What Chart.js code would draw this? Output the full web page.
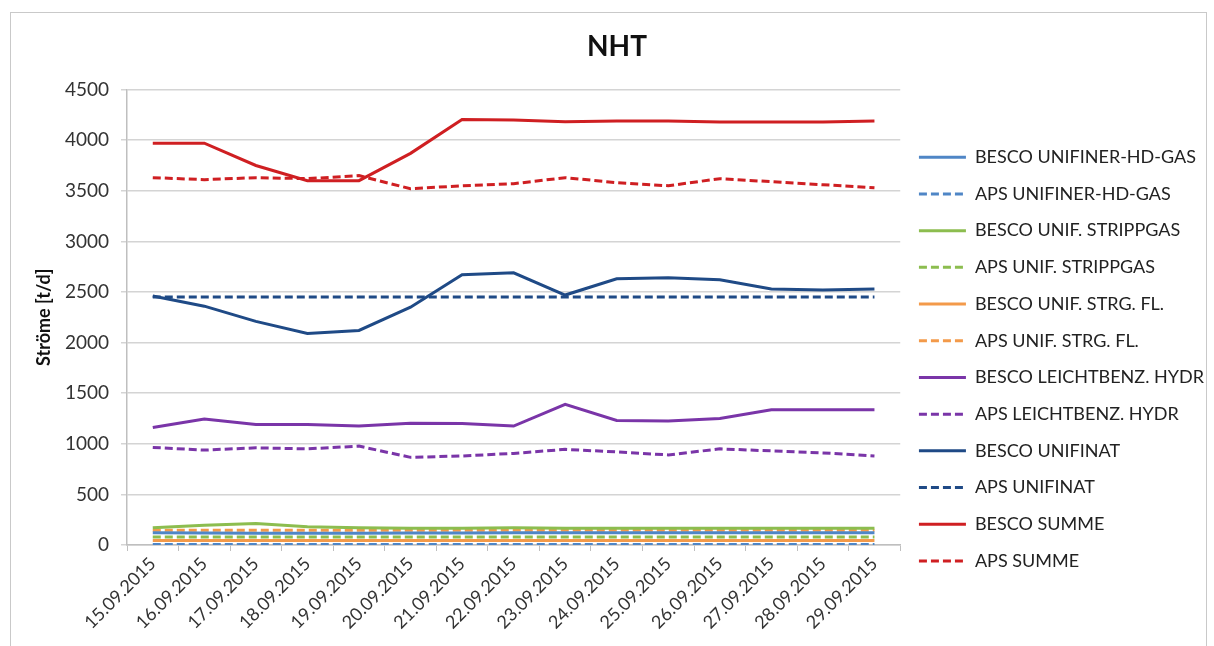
<!DOCTYPE html>
<html>
<head>
<meta charset="utf-8">
<title>NHT</title>
<script src="https://cdn.jsdelivr.net/npm/chart.js@4/dist/chart.umd.min.js"></script>
<style>
    html, body { margin: 0; padding: 0; background: #fff; }
    #frame {
        position: absolute; left: 10px; top: 12px;
        width: 1197px; height: 640px;
        border: 1px solid #c9c9c9; box-sizing: border-box;
    }
    #wrap { position: absolute; left: 0; top: 0; width: 1214px; height: 646px; }
</style>
</head>
<body>
<div id="frame"></div>
<div id="wrap"><canvas id="chart" width="1214" height="646"></canvas></div>
<script>
var dates = ['15.09.2015', '16.09.2015', '17.09.2015', '18.09.2015', '19.09.2015',
    '20.09.2015', '21.09.2015', '22.09.2015', '23.09.2015', '24.09.2015',
    '25.09.2015', '26.09.2015', '27.09.2015', '28.09.2015', '29.09.2015'];

var yTicks = [0, 500, 1000, 1500, 2000, 2500, 3000, 3500, 4000, 4500];

var bescoHdGas = [120, 118, 115, 115, 115, 118, 118, 120, 120, 120, 120, 120, 120, 120, 120];
var apsHdGas = [5, 5, 5, 5, 5, 5, 5, 5, 5, 5, 5, 5, 5, 5, 5];
var bescoStrippgas = [170, 195, 212, 180, 170, 165, 165, 170, 165, 165, 165, 165, 165, 165, 165];
var apsStrippgas = [80, 80, 80, 80, 80, 80, 80, 80, 80, 80, 80, 80, 80, 80, 80];
var bescoStrgFl = [45, 45, 45, 45, 45, 45, 45, 45, 45, 45, 45, 45, 45, 45, 45];
var apsStrgFl = [145, 145, 145, 145, 145, 145, 145, 145, 145, 145, 145, 145, 145, 145, 145];
var bescoLeichtbenz = [1162, 1244, 1191, 1190, 1175, 1204, 1200, 1175, 1389, 1231, 1225, 1250, 1336, 1336, 1336];
var apsLeichtbenz = [964, 938, 960, 950, 977, 866, 880, 905, 945, 920, 890, 950, 930, 910, 880];
var bescoUnifinat = [2460, 2360, 2210, 2090, 2120, 2350, 2670, 2690, 2470, 2630, 2640, 2620, 2530, 2520, 2530];
var apsUnifinat = [2450, 2450, 2450, 2450, 2450, 2450, 2450, 2450, 2450, 2450, 2450, 2450, 2450, 2450, 2450];
var bescoSumme = [3970, 3970, 3750, 3600, 3600, 3870, 4205, 4200, 4183, 4190, 4190, 4180, 4180, 4180, 4190];
var apsSumme = [3630, 3610, 3630, 3620, 3650, 3520, 3550, 3570, 3630, 3580, 3550, 3620, 3590, 3560, 3530];

(function () {
    'use strict';

    var FONT = 'Lato, "Open Sans", sans-serif',
        DASH = [8, 4],

        series = [
            { label: 'BESCO UNIFINER-HD-GAS', data: bescoHdGas, color: '#4f86c6', dashed: false },
            { label: 'APS UNIFINER-HD-GAS', data: apsHdGas, color: '#4f86c6', dashed: true },
            { label: 'BESCO UNIF. STRIPPGAS', data: bescoStrippgas, color: '#8cbd4f', dashed: false },
            { label: 'APS UNIF. STRIPPGAS', data: apsStrippgas, color: '#8cbd4f', dashed: true },
            { label: 'BESCO UNIF. STRG. FL.', data: bescoStrgFl, color: '#f39a4a', dashed: false },
            { label: 'APS UNIF. STRG. FL.', data: apsStrgFl, color: '#f39a4a', dashed: true },
            { label: 'BESCO LEICHTBENZ. HYDR', data: bescoLeichtbenz, color: '#7a35a8', dashed: false },
            { label: 'APS LEICHTBENZ. HYDR', data: apsLeichtbenz, color: '#7a35a8', dashed: true },
            { label: 'BESCO UNIFINAT', data: bescoUnifinat, color: '#1f4a86', dashed: false },
            { label: 'APS UNIFINAT', data: apsUnifinat, color: '#1f4a86', dashed: true },
            { label: 'BESCO SUMME', data: bescoSumme, color: '#cf1f22', dashed: false },
            { label: 'APS SUMME', data: apsSumme, color: '#cf1f22', dashed: true }
        ],

        buildDatasets = function () {
            return series.map(function (s) {
                return {
                    label: s.label,
                    data: s.data,
                    borderColor: s.color,
                    backgroundColor: s.color,
                    borderWidth: 3,
                    borderDash: s.dashed ? DASH : [],
                    pointRadius: 0,
                    tension: 0,
                    fill: false
                };
            });
        },

        // the default labels take the point style, so the dash gets lost
        legendLabels = function (chart) {
            var items = Chart.defaults.plugins.legend.labels.generateLabels(chart);

            items.forEach(function (item) {
                var ds = chart.data.datasets[item.datasetIndex];
                item.lineDash = ds.borderDash;
                item.lineWidth = 3;
                item.strokeStyle = ds.borderColor;
            });

            return items;
        },

        getConfig = function () {
            return {
                type: 'line',
                data: {
                    labels: dates,
                    datasets: buildDatasets()
                },
                options: {
                    responsive: false,
                    animation: false,
                    layout: { padding: { top: 18, left: 20, right: 0, bottom: 6 } },
                    plugins: {
                        tooltip: { enabled: false },
                        title: {
                            display: true,
                            text: 'NHT',
                            color: '#111',
                            font: { family: FONT, size: 28, weight: 'bold' },
                            padding: { top: 12, bottom: 26 }
                        },
                        legend: {
                            position: 'right',
                            maxWidth: 340,
                            title: {
                                display: true,
                                text: '',
                                font: { family: FONT, size: 16 },
                                padding: { top: 20, bottom: 21 }
                            },
                            labels: {
                                usePointStyle: true,
                                pointStyle: 'line',
                                pointStyleWidth: 47,
                                color: '#222',
                                font: { family: FONT, size: 18 },
                                padding: 18.7,
                                generateLabels: legendLabels
                            }
                        }
                    },
                    scales: {
                        x: {
                            offset: true,
                            afterFit: function (scale) { scale.height = 95; },
                            grid: {
                                offset: true,
                                drawOnChartArea: false,
                                tickLength: 6,
                                color: '#bfbfbf',
                                lineWidth: 1
                            },
                            border: { color: '#bfbfbf', width: 1.5 },
                            ticks: {
                                autoSkip: false,
                                maxRotation: 45,
                                minRotation: 45,
                                color: '#333',
                                font: { family: FONT, size: 18 },
                                padding: 2
                            }
                        },
                        y: {
                            min: 0,
                            max: 4500,
                            afterFit: function (scale) { scale.width = 107; },
                            afterBuildTicks: function (scale) {
                                scale.ticks = yTicks.map(function (v) { return { value: v }; });
                            },
                            title: {
                                display: true,
                                text: 'Ströme [t/d]',
                                color: '#111',
                                font: { family: FONT, size: 18, weight: 'bold' },
                                padding: { top: 13, bottom: 0 }
                            },
                            grid: {
                                color: '#d4d4d4',
                                lineWidth: 1.5,
                                tickLength: 6
                            },
                            border: { color: '#bfbfbf', width: 1.5 },
                            ticks: {
                                color: '#333',
                                font: { family: FONT, size: 19 },
                                padding: 12,
                                callback: function (value) { return String(value); }
                            }
                        }
                    }
                }
            };
        },

        init = function () {
            var canvas = document.getElementById('chart');
            new Chart(canvas.getContext('2d'), getConfig());
        };

    init();
}());
</script>
</body>
</html>
